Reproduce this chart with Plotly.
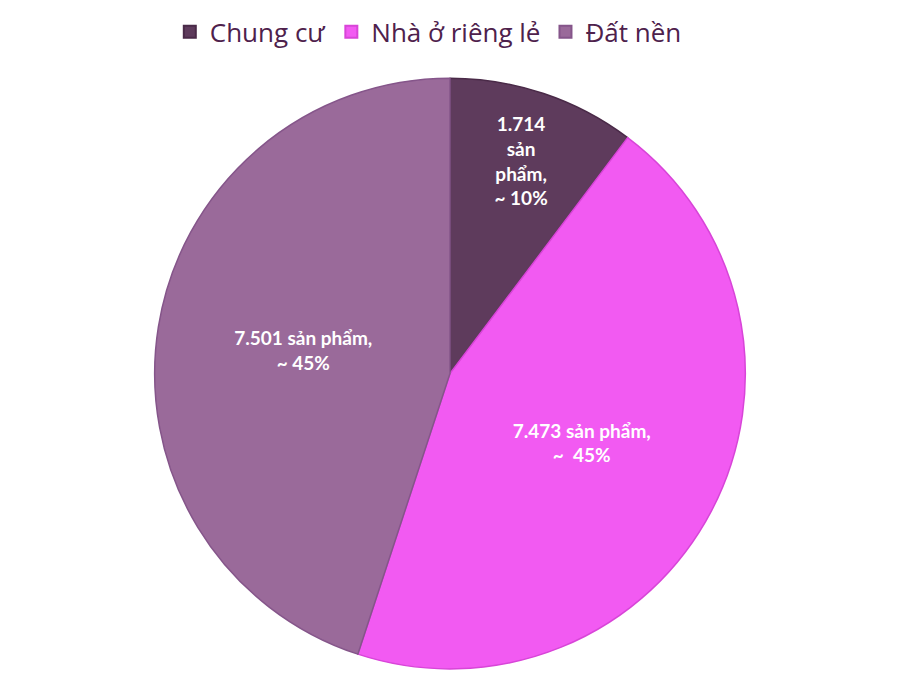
import plotly.graph_objects as go

categories = ["Chung cư", "Nhà ở riêng lẻ", "Đất nền"]
values = [1714, 7473, 7501]
labels_text = ["1.714<br>sản<br>phẩm,<br>~ 10%", "7.473 sản phẩm,<br>~  45%", "7.501 sản phẩm,<br>~ 45%"]
colors = ["#5e3b5c", "#f25af2", "#9a6a9a"]
line_colors = ["#4a2a48", "#d845d8", "#85558a"]

fig = go.Figure(go.Pie(
    labels=categories,
    values=values,
    text=labels_text,
    texttemplate="%{text}",
    textposition="inside",
    insidetextorientation="horizontal",
    sort=False,
    direction="clockwise",
    rotation=0,
    marker=dict(colors=colors, line=dict(color=line_colors, width=1.5)),
    textfont=dict(family="Lato", size=19, color="white", weight="bold"),
    domain=dict(x=[0.1578, 0.8244], y=[0.057, 0.918]),
    hoverinfo="label+value",
))

fig.update_layout(
    width=900, height=700,
    margin=dict(l=0, r=0, t=0, b=0),
    paper_bgcolor="white",
    plot_bgcolor="white",
    showlegend=True,
    legend=dict(
        orientation="h", x=0.467, xanchor="center", y=1.02, yanchor="top",
        font=dict(family="Open Sans", size=26, color="#4e214c"),
        traceorder="normal",
        itemsizing="constant",
    ),
    uniformtext=dict(minsize=19, mode="show"),
)

fig.write_html("out.html")
